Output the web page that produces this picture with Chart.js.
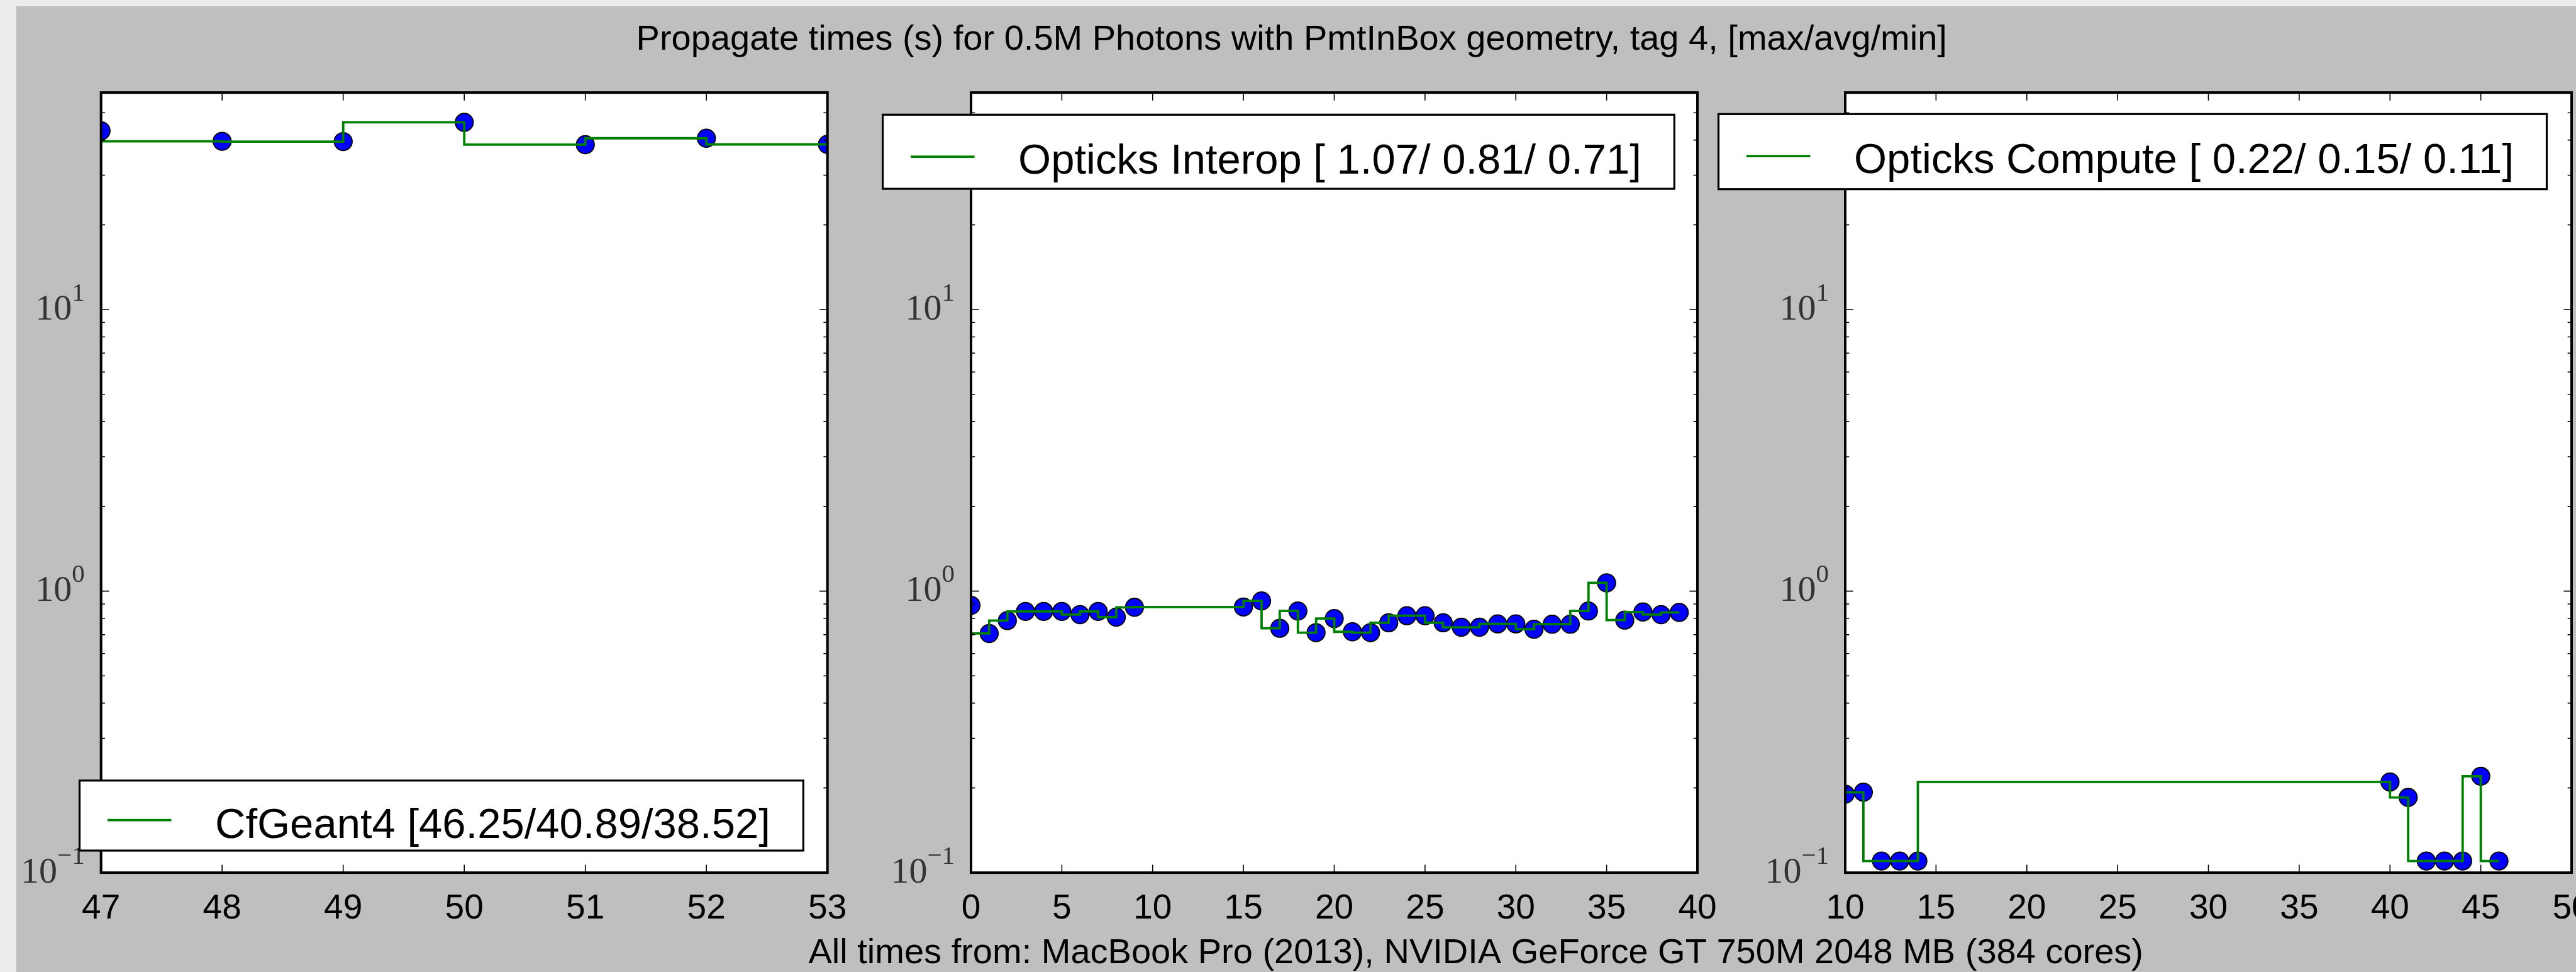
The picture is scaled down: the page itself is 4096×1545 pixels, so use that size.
<!DOCTYPE html>
<html>
<head>
<meta charset="utf-8">
<script src="https://cdn.jsdelivr.net/npm/chart.js@4/dist/chart.umd.min.js"></script>
<style>
  html, body { margin: 0; padding: 0; }
  body { width: 4096px; height: 1545px; overflow: hidden; background: #bfbfbf; position: relative; }
  #topband { position: absolute; left: 0; top: 0; width: 4096px; height: 10px; background: #ececec; }
  #leftband { position: absolute; left: 0; top: 0; width: 26px; height: 1545px; background: #ececec; }
  canvas { position: absolute; left: 0; top: 0; }
</style>
</head>
<body>
<div id="topband"></div>
<div id="leftband"></div>
<canvas id="p1"></canvas>
<canvas id="p2"></canvas>
<canvas id="p3"></canvas>
<script>
// ---- data ---------------------------------------------------------------
const titleText = 'Propagate times (s) for 0.5M Photons with PmtInBox geometry, tag 4, [max/avg/min]';
const footerText = 'All times from: MacBook Pro (2013), NVIDIA GeForce GT 750M 2048 MB (384 cores)';

const seriesNames = ['CfGeant4', 'Opticks Interop', 'Opticks Compute'];

const geantRuns  = [47, 48, 49, 50, 51, 52, 53];
const geantTimes = [43.15, 39.6, 39.5, 46.25, 38.52, 40.6, 38.61];

const interopRuns  = [0, 1, 2, 3, 4, 5, 6, 7, 8, 9,
                      15, 16, 17, 18, 19, 20, 21, 22, 23, 24, 25, 26, 27,
                      28, 29, 30, 31, 32, 33, 34, 35, 36, 37, 38, 39];
const interopTimes = [0.890, 0.707, 0.786, 0.847, 0.847, 0.847, 0.825, 0.847, 0.808, 0.876,
                      0.878, 0.923, 0.738, 0.850, 0.712, 0.799, 0.717, 0.712, 0.772, 0.818, 0.818, 0.772, 0.744,
                      0.744, 0.765, 0.765, 0.732, 0.763, 0.763, 0.850, 1.07, 0.789, 0.843, 0.825, 0.840];

const computeRuns  = [10, 11, 12, 13, 14, 40, 41, 42, 43, 44, 45, 46];
const computeTimes = [0.19, 0.193, 0.11, 0.11, 0.11, 0.21, 0.185, 0.11, 0.11, 0.11, 0.22, 0.11];

// x axis ranges [min, max, step] per panel
const xMin  = [47, 0, 10];
const xMax  = [53, 40, 50];
const xStep = [1, 5, 5];

// shared log y axis
const yMin = 0.1;
const yMax = 59;
const yDecades   = [0.1, 1, 10];
const yExponents = ['-1', '0', '1'];

// ---- layout & style -----------------------------------------------------
const CANVAS_W = 4300, CANVAS_H = 1545;
const AREA_TOP = 147.1, AREA_BOTTOM = 1387.1, AREA_W = 1155;
const AREA_LEFT = [160.7, 1544.0, 2934.0];
const X_AXIS_H = 120;
const LEGEND_BOX = [
  { left: 126.5,  top: 1240.7, h: 111.3, lineY: 62.9, base: 91.3 },
  { left: 1403.6, top: 182.3,  h: 117.8, lineY: 66.8, base: 93.6 },
  { left: 2732.5, top: 181.3,  h: 119.4, lineY: 66.8, base: 93.6 }
];
const SANS = '"Liberation Sans", Arial, Helvetica, sans-serif';
const SERIF = '"Liberation Serif", "Times New Roman", serif';
const LINE_GREEN = '#008000';

function fmtStat(v) { return v.toFixed(2).padStart(5, ' '); }
function legendText(i, ys) {
  const mx = Math.max(...ys), mn = Math.min(...ys);
  const avg = ys.reduce((a, b) => a + b, 0) / ys.length;
  return seriesNames[i] + ' [' + [mx, avg, mn].map(fmtStat).join('/') + ']';
}

// axes frame, inward ticks, y labels and legend in matplotlib fashion
const axesDecor = {
  id: 'axesDecor',
  beforeDraw(chart) {
    const a = chart.chartArea, ctx = chart.ctx;
    ctx.save();
    ctx.fillStyle = '#ffffff';
    ctx.fillRect(a.left, a.top, a.right - a.left, a.bottom - a.top);
    ctx.restore();
  },
  afterDatasetsDraw(chart, args, opts) {
    const a = chart.chartArea, ctx = chart.ctx;
    const xs = chart.scales.x, ys = chart.scales.y;
    ctx.save();
    ctx.strokeStyle = '#000';
    ctx.lineWidth = 1.6;
    ctx.beginPath();
    // x ticks, bottom and top, pointing inwards
    xs.ticks.forEach(t => {
      const px = xs.getPixelForValue(t.value);
      ctx.moveTo(px, a.bottom); ctx.lineTo(px, a.bottom - 12.6);
      ctx.moveTo(px, a.top);    ctx.lineTo(px, a.top + 12.6);
    });
    // log y ticks: decades long, 2..9 short, both sides
    for (let e = -1; e <= 1; e++) {
      for (let m = 1; m <= 9; m++) {
        const v = m * Math.pow(10, e);
        if (v < yMin * 0.9999 || v > yMax) continue;
        const py = ys.getPixelForValue(v);
        const len = m === 1 ? 12.6 : 6.3;
        ctx.moveTo(a.left, py);  ctx.lineTo(a.left + len, py);
        ctx.moveTo(a.right, py); ctx.lineTo(a.right - len, py);
      }
    }
    ctx.stroke();
    // frame
    ctx.lineWidth = 4;
    ctx.strokeRect(a.left, a.top, a.right - a.left, a.bottom - a.top);

    // y tick labels: 10 with superscript exponent
    ctx.fillStyle = '#333333';
    ctx.textBaseline = 'alphabetic';
    ctx.textAlign = 'left';
    const baseFont = '58px ' + SERIF, supFont = '41px ' + SERIF;
    yDecades.forEach((v, k) => {
      const py = ys.getPixelForValue(v);
      ctx.font = baseFont;
      const wb = ctx.measureText('10').width;
      ctx.font = supFont;
      const es = yExponents[k].replace('-', '\u2212');
      const we = ctx.measureText(es).width;
      const x0 = a.left - 26 - wb - we;
      ctx.font = baseFont;
      ctx.fillText('10', x0, py + 15.5);
      ctx.font = supFont;
      ctx.fillText(es, x0 + wb, py + 15.5 - 30);
    });

    // legend box
    const lb = LEGEND_BOX[opts.panel];
    ctx.font = '67px ' + SANS;
    const txt = opts.label;
    const tw = ctx.measureText(txt).width;
    const bw = 215.5 + tw + 52.5;
    ctx.fillStyle = '#ffffff';
    ctx.fillRect(lb.left, lb.top, bw, lb.h);
    ctx.lineWidth = 3.2;
    ctx.strokeStyle = '#000';
    ctx.strokeRect(lb.left, lb.top, bw, lb.h);
    ctx.strokeStyle = LINE_GREEN;
    ctx.lineWidth = 3.8;
    ctx.beginPath();
    ctx.moveTo(lb.left + 44.5, lb.top + lb.lineY);
    ctx.lineTo(lb.left + 146, lb.top + lb.lineY);
    ctx.stroke();
    ctx.fillStyle = '#000';
    ctx.fillText(txt, lb.left + 215.5, lb.top + lb.base);
    ctx.restore();
  },
  afterDraw(chart, args, opts) {
    if (!opts.figureText) return;
    const ctx = chart.ctx;
    ctx.save();
    ctx.fillStyle = '#000';
    ctx.textBaseline = 'alphabetic';
    ctx.textAlign = 'left';
    ctx.font = '56px ' + SANS;
    ctx.fillText(titleText, 1011.6, 79.1);
    ctx.font = '56px ' + SANS;
    ctx.fillText(footerText, 1285.5, 1531.1);
    ctx.restore();
  }
};

function makePanel(idx, canvasId, runs, times) {
  const canvas = document.getElementById(canvasId);
  canvas.width = CANVAS_W; canvas.height = CANVAS_H;
  canvas.style.width = CANVAS_W + 'px'; canvas.style.height = CANVAS_H + 'px';
  const pts = runs.map((x, i) => ({ x: x, y: times[i] }));
  const left = AREA_LEFT[idx];
  return new Chart(canvas, {
    type: 'scatter',
    data: {
      datasets: [
        { // step line (drawn on top)
          data: pts, showLine: true, stepped: 'after',
          borderColor: LINE_GREEN, borderWidth: 3.8,
          pointRadius: 0, pointHoverRadius: 0, fill: false, clip: 0
        },
        { // run markers
          data: pts, showLine: false,
          pointRadius: 14.3, pointHoverRadius: 14.3,
          pointBackgroundColor: '#0000ff', pointBorderColor: '#000000',
          pointBorderWidth: 1.8, clip: 0
        }
      ]
    },
    options: {
      responsive: false, animation: false, devicePixelRatio: 1, events: [],
      layout: {
        padding: {
          left: left, right: CANVAS_W - left - AREA_W,
          top: AREA_TOP, bottom: CANVAS_H - AREA_BOTTOM - X_AXIS_H
        }
      },
      plugins: {
        legend: { display: false }, tooltip: { enabled: false }, title: { display: false },
        axesDecor: { panel: idx, label: legendText(idx, times), figureText: idx === 0 }
      },
      scales: {
        x: {
          type: 'linear', min: xMin[idx], max: xMax[idx],
          grid: { display: false, drawTicks: false }, border: { display: false },
          ticks: {
            stepSize: xStep[idx], autoSkip: false, maxRotation: 0, minRotation: 0,
            color: '#000', padding: 25, font: { family: SANS, size: 55 },
            callback: v => String(v)
          },
          afterFit: s => { s.height = X_AXIS_H; }
        },
        y: { type: 'logarithmic', min: yMin, max: yMax, display: false }
      }
    },
    plugins: [axesDecor]
  });
}

makePanel(0, 'p1', geantRuns, geantTimes);
makePanel(1, 'p2', interopRuns, interopTimes);
makePanel(2, 'p3', computeRuns, computeTimes);
</script>
</body>
</html>
